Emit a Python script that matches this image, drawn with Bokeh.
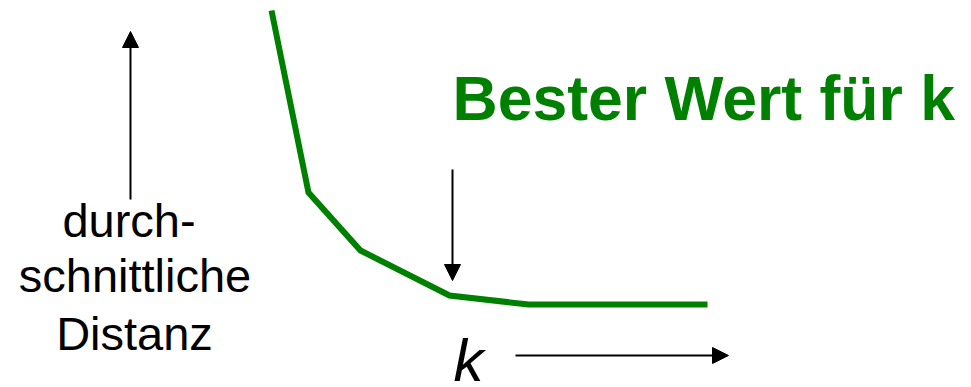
from bokeh.plotting import figure
from bokeh.models import Range1d, Arrow, NormalHead
from bokeh.core.properties import value
from bokeh.embed import file_html
from bokeh.resources import INLINE

# Elbow curve: average distance falling as the number of clusters k grows
k_pos = [271, 308, 360, 449, 528, 707]
avg_distance = [377, 195, 137, 92, 83, 83]

# Text
title_text = "Bester Wert für k"
y_label_lines = ["durch-", "schnittliche", "Distanz"]
x_label = "k"

GREEN = "#008000"
FONT = "Liberation Sans"

p = figure(width=971, height=387, output_backend="svg", toolbar_location=None,
           x_range=Range1d(0, 971), y_range=Range1d(0, 387),
           min_border=0, min_border_left=0, min_border_right=0,
           min_border_top=0, min_border_bottom=0)
p.axis.visible = False
p.grid.visible = False
p.outline_line_color = None
p.background_fill_color = "white"
p.border_fill_color = "white"

p.line(k_pos, avg_distance, line_color=GREEN, line_width=6, line_join="miter")

def arrow(x0, y0, x1, y1):
    p.add_layout(Arrow(x_start=x0, y_start=y0, x_end=x1, y_end=y1,
                       line_color="black", line_width=2,
                       end=NormalHead(size=16, fill_color="black", line_color="black", line_width=1)))

# y-direction arrow, pointer to the elbow, x-direction arrow
arrow(130, 188, 130, 356)
arrow(452, 218, 452, 107)
arrow(515, 32, 728, 32)

# Highlight text
p.text(x=[452], y=[290], text=[title_text], text_font=value(FONT),
       text_font_style="bold", text_font_size="62.5px", text_color=GREEN,
       text_align="left", text_baseline="alphabetic")

# y label, three centred lines
p.text(x=[128.5, 134.5, 134], y=[167.5, 112.5, 54.5], text=y_label_lines,
       text_font=value(FONT), text_font_size="47px", text_color="black",
       text_align="center", text_baseline="alphabetic")

# x label
p.text(x=[453], y=[27], text=[x_label], text_font=value(FONT),
       text_font_style="italic", text_font_size="60px", text_color="black",
       text_align="left", text_baseline="alphabetic")

open("out.html", "w").write(file_html(p, INLINE))
